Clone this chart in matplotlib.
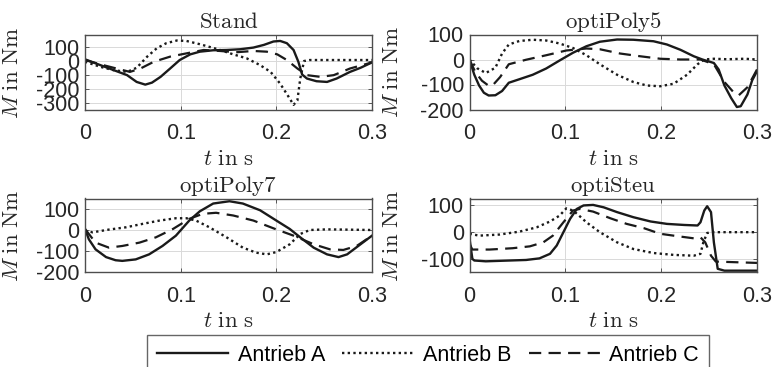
import numpy as np
import matplotlib
matplotlib.use("Agg")
import matplotlib.pyplot as plt

plt.rcParams['mathtext.fontset'] = 'cm'
plt.rcParams['font.family'] = ['Liberation Sans', 'DejaVu Sans']
plt.rcParams['axes.unicode_minus'] = False

# ---- data (t in s, M in Nm) ----
stand_t_a = [0, 0.016, 0.033, 0.044, 0.054, 0.063, 0.070, 0.079, 0.089, 0.099, 0.110, 0.120, 0.134, 0.148, 0.162,
             0.176, 0.187, 0.197, 0.204, 0.211, 0.218, 0.223, 0.227, 0.232, 0.242, 0.253, 0.263, 0.277, 0.288, 0.300]
stand_a = [10, -31, -74, -102, -150, -169, -155, -114, -55, 5, 45, 64, 74, 76, 81,
           93, 112, 136, 140, 124, 76, -7, -98, -126, -145, -150, -126, -79, -50, -12]
stand_t_b = [0, 0.016, 0.030, 0.044, 0.054, 0.065, 0.075, 0.085, 0.096, 0.106, 0.120, 0.138, 0.155, 0.169, 0.183,
             0.194, 0.204, 0.213, 0.218, 0.222, 0.225, 0.229, 0.235, 0.300]
stand_b = [-7, -43, -67, -79, -50, 29, 88, 124, 143, 140, 117, 83, 45, 17, -31,
           -79, -162, -257, -312, -281, -126, -2, 5, 5]
stand_t_c = [0, 0.019, 0.037, 0.047, 0.058, 0.072, 0.089, 0.106, 0.124, 0.141, 0.158, 0.176, 0.190, 0.201, 0.211,
             0.222, 0.232, 0.246, 0.260, 0.277, 0.300]
stand_c = [5, -31, -62, -79, -55, -7, 29, 52, 76, 69, 60, 69, 64, 45, 5,
           -55, -102, -114, -102, -55, -12]

poly5_t_a = [0, 0.005, 0.010, 0.015, 0.020, 0.027, 0.034, 0.041, 0.052, 0.066, 0.080, 0.094, 0.108, 0.122, 0.136,
             0.154, 0.171, 0.192, 0.206, 0.220, 0.234, 0.243, 0.255, 0.260, 0.266, 0.273, 0.279, 0.283, 0.290, 0.295, 0.300]
poly5_a = [0, -61, -104, -133, -144, -143, -126, -93, -79, -61, -36, -4, 27, 53, 71,
           80, 79, 73, 60, 39, 13, 0, -14, -40, -104, -154, -190, -187, -140, -83, -47]
poly5_t_b = [0, 0.008, 0.017, 0.027, 0.034, 0.041, 0.052, 0.066, 0.080, 0.094, 0.108, 0.122, 0.136, 0.154, 0.171,
             0.185, 0.199, 0.213, 0.227, 0.238, 0.245, 0.255, 0.269, 0.287, 0.300]
poly5_b = [0, -35, -54, -33, 24, 60, 74, 79, 76, 64, 46, 17, -19, -61, -90,
           -104, -107, -97, -61, -19, 0, 3, 1, 3, 0]
poly5_t_c = [0, 0.006, 0.013, 0.020, 0.024, 0.032, 0.041, 0.059, 0.080, 0.101, 0.122, 0.136, 0.157, 0.178, 0.199,
             0.220, 0.241, 0.255, 0.266, 0.276, 0.281, 0.290, 0.300]
poly5_c = [0, -50, -85, -105, -104, -70, -19, -1, 17, 36, 44, 41, 24, 13, 3,
           0, 0, -19, -90, -133, -143, -111, -40]

poly7_t_a = [0, 0.004, 0.011, 0.022, 0.032, 0.039, 0.053, 0.067, 0.081, 0.095, 0.109, 0.120, 0.134, 0.151, 0.165,
             0.183, 0.200, 0.214, 0.225, 0.239, 0.253, 0.265, 0.274, 0.288, 0.300]
poly7_a = [5, -44, -92, -129, -144, -147, -140, -116, -76, -27, 45, 89, 126, 137, 126,
           94, 45, 5, -35, -84, -116, -129, -116, -68, -27]
poly7_t_b = [0, 0.008, 0.025, 0.043, 0.060, 0.078, 0.095, 0.106, 0.116, 0.130, 0.148, 0.165, 0.179, 0.190, 0.200,
             0.214, 0.225, 0.235, 0.253, 0.270, 0.300]
poly7_b = [-3, -11, 2, 13, 29, 45, 56, 56, 45, 13, -35, -84, -108, -116, -105,
           -68, -19, 0, 3, 2, 0]
poly7_t_c = [0, 0.011, 0.025, 0.039, 0.057, 0.074, 0.092, 0.109, 0.123, 0.137, 0.155, 0.176, 0.197, 0.218, 0.239,
             0.256, 0.270, 0.284, 0.300]
poly7_c = [5, -60, -84, -76, -60, -35, 5, 53, 77, 82, 69, 45, 8, -27, -68,
           -92, -95, -76, -27]

steu_t_a = [0, 0.003, 0.005, 0.017, 0.042, 0.059, 0.073, 0.084, 0.091, 0.098, 0.105, 0.112, 0.119, 0.129, 0.140,
            0.154, 0.171, 0.189, 0.206, 0.224, 0.238, 0.241, 0.245, 0.248, 0.252, 0.255, 0.259, 0.266, 0.300]
steu_a = [-25, -101, -107, -110, -107, -105, -99, -82, -51, -1, 49, 86, 99, 101, 92,
          74, 55, 39, 30, 26, 24, 36, 80, 96, 74, -39, -138, -145, -145]
steu_t_b = [0, 0.010, 0.031, 0.052, 0.070, 0.084, 0.094, 0.101, 0.108, 0.114, 0.122, 0.136, 0.154, 0.171, 0.192,
            0.213, 0.234, 0.241, 0.244, 0.248, 0.255, 0.300]
steu_b = [-7, -14, -10, 1, 17, 39, 61, 88, 80, 62, 36, -1, -39, -64, -79,
          -86, -89, -82, -39, -4, -1, -1]
steu_t_c = [0, 0.003, 0.021, 0.045, 0.063, 0.077, 0.087, 0.098, 0.108, 0.115, 0.129, 0.147, 0.164, 0.182, 0.199,
            0.217, 0.234, 0.241, 0.246, 0.252, 0.257, 0.300]
steu_c = [-45, -66, -66, -61, -54, -39, -14, 36, 80, 86, 76, 51, 30, 14, -7,
          -16, -24, -20, -39, -89, -111, -116]

titles = ['Stand', 'optiPoly5', 'optiPoly7', 'optiSteu']
ylims = [(-345, 182), (-200, 100), (-200, 150), (-150, 125)]
yticks = [[-300, -200, -100, 0, 100], [-200, -100, 0, 100], [-200, -100, 0, 100], [-100, 0, 100]]
xticks = [0, 0.1, 0.2, 0.3]
legend_labels = ['Antrieb A', 'Antrieb B', 'Antrieb C']

panels = [
    [(stand_t_a, stand_a), (stand_t_b, stand_b), (stand_t_c, stand_c)],
    [(poly5_t_a, poly5_a), (poly5_t_b, poly5_b), (poly5_t_c, poly5_c)],
    [(poly7_t_a, poly7_a), (poly7_t_b, poly7_b), (poly7_t_c, poly7_c)],
    [(steu_t_a, steu_a), (steu_t_b, steu_b), (steu_t_c, steu_c)],
]

W, H = 775, 367
fig = plt.figure(figsize=(W / 100, H / 100), dpi=100)

# axes boxes in pixels: left, top, right, bottom
boxes = [(85, 35, 372, 109.5), (469.5, 34.5, 757, 109.5),
         (85, 198.5, 372, 272), (469.5, 198.5, 757, 272)]

styles = [dict(ls='-', lw=1.7),
          dict(ls=(0, (1, 1.4)), lw=1.7),
          dict(ls=(0, (5.5, 3.3)), lw=1.6)]

lines = []
for i, (l, t, r, b) in enumerate(boxes):
    ax = fig.add_axes([l / W, 1 - b / H, (r - l) / W, (b - t) / H])
    for (tt, mm), st in zip(panels[i], styles):
        ln, = ax.plot(tt, mm, color='#1a1a1a', **st)
        if i == 0:
            lines.append(ln)
    ax.set_xlim(0, 0.3)
    ax.set_ylim(*ylims[i])
    ax.set_xticks(xticks)
    ax.set_xticklabels(['0', '0.1', '0.2', '0.3'])
    ax.set_yticks(yticks[i])
    ax.grid(True, color='#d9d9d9', lw=0.7)
    ax.tick_params(direction='in', length=3, width=0.6, colors='#404040', labelsize=15.5,
                   labelcolor='#262626', top=True, right=True)
    ax.tick_params(axis='x', pad=10)
    ax.tick_params(axis='y', pad=4)
    for sp in ax.spines.values():
        sp.set_color('#4d4d4d')
        sp.set_linewidth(1.0)
    ax.set_title(r'$\mathrm{' + titles[i] + '}$', fontsize=16.5, pad=5, color='#262626')
    ax.set_xlabel(r'$t\ \mathrm{in\ s}$', fontsize=16.5, color='#262626')
    ax.set_ylabel(r'$M\ \mathrm{in\ Nm}$', fontsize=16.5, color='#262626')
    ax.xaxis.set_label_coords(0.5, -0.5)
    ax.yaxis.set_label_coords(-0.215 if i % 2 == 0 else -0.23, 0.5)

leg = fig.legend(lines, legend_labels, ncol=3, loc='upper center',
                 bbox_to_anchor=(428 / W, 1 - 335 / H), fontsize=15.5,
                 handlelength=3.3, handletextpad=0.45, columnspacing=0.8,
                 frameon=True, fancybox=False, borderpad=0.45, borderaxespad=0)
leg.get_frame().set_edgecolor('#404040')
leg.get_frame().set_linewidth(1.0)

fig.savefig('out.png', dpi=100)
